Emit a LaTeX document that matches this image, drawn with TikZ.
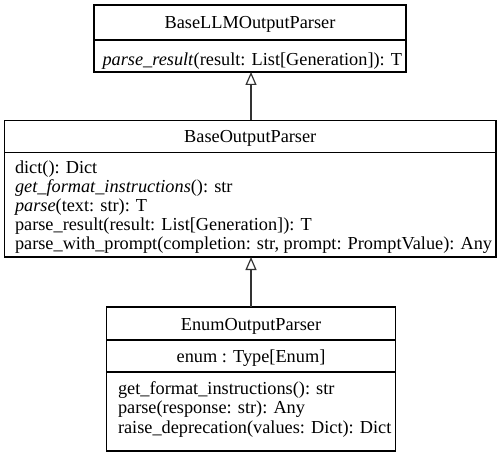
\documentclass[tikz,border=0pt]{standalone}
\usepackage{fontspec}
\setmainfont{Liberation Serif}
\usetikzlibrary{arrows.meta}
\tikzset{
  umlbox/.style={draw=black, line width=1.2bp, inner sep=0pt, outer sep=0pt, anchor=north west},
  divline/.style={draw=black, line width=1.2bp},
  txt/.style={inner sep=0pt, outer sep=0pt, font=\fontsize{18.3bp}{19.5bp}\selectfont},
  lline/.style={txt, anchor=base west},
  cline/.style={txt, anchor=base},
  inherit/.style={draw=black!80, line width=1.3bp, -{Triangle[open, length=13bp, width=11bp, line width=1.2bp]}}
}
\begin{document}
\begin{tikzpicture}[x=1bp, y=-1bp]
\useasboundingbox (0,0) rectangle (502,455);
% Box 1
\node[umlbox, minimum width=312bp, minimum height=67bp] (b1) at (94,5) {};
\draw[divline] (94,40) -- (406,40);
\node[cline] (b1t) at (250,29) {BaseLLMOutputParser};
\node[lline] (b1m) at (102.5,66) {\textit{parse\_result}(result: List[Generation]): T};
% Box 2
\node[umlbox, minimum width=491.5bp, minimum height=136.5bp] (b2) at (4.5,120.5) {};
\draw[divline] (4.5,152.5) -- (496,152.5);
\node[cline] (b2t) at (250.25,143) {BaseOutputParser};
\node[lline] (b2m1) at (15,174) {dict(): Dict};
\node[lline] (b2m2) at (15,193) {\textit{get\_format\_instructions}(): str};
\node[lline] (b2m3) at (15,212) {\textit{parse}(text: str): T};
\node[lline] (b2m4) at (15,231) {parse\_result(result: List[Generation]): T};
\node[lline] (b2m5) at (15,250) {parse\_with\_prompt(completion: str, prompt: PromptValue): Any};
% Box 3
\node[umlbox, minimum width=289bp, minimum height=144bp] (b3) at (106.5,307) {};
\draw[divline] (106.5,340) -- (395.5,340);
\draw[divline] (106.5,372) -- (395.5,372);
\node[cline] (b3t) at (251,330) {EnumOutputParser};
\node[cline] (b3a) at (251,362) {enum : Type[Enum]};
\node[lline] (b3m1) at (118,394) {get\_format\_instructions(): str};
\node[lline] (b3m2) at (118,413.5) {parse(response: str): Any};
\node[lline] (b3m3) at (118,433) {raise\_deprecation(values: Dict): Dict};
% Inheritance arrows
\draw[inherit] (b2.north -| 251,0) -- (b1.south -| 251,0);
\draw[inherit] (b3.north -| 251,0) -- (b2.south -| 251,0);
\end{tikzpicture}
\end{document}
